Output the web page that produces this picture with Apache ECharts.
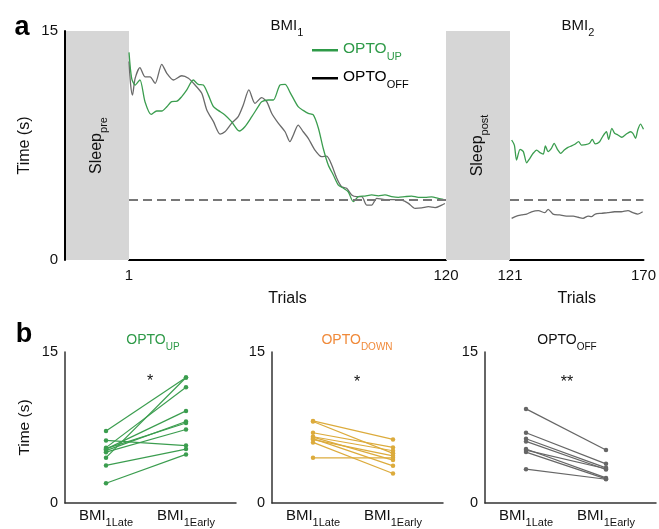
<!DOCTYPE html>
<html><head><meta charset="utf-8">
<script src="https://cdn.jsdelivr.net/npm/echarts@6/dist/echarts.min.js"></script>
<style>html,body{margin:0;padding:0;background:#fff}#c{width:659px;height:529px}</style>
</head><body><div id="c"></div>
<script>
// ---------- Panel a data ----------
const upBmi1Trials = [1,2,3.3,5.1,7,9.3,11.4,13.3,15.2,17,19,20.8,22.7,25.1,27,28.9,30.8,32.7,34.5,37,39.5,42.4,44.5,47.1,49.5,50.8,53.3,55.2,57.7,59.6,61.4,64.5,66.4,68.3,70.2,72.1,73.9,75.8,77.7,79.6,81.5,83.3,85.2,87.1,89.6,92.1,94.6,97.1,99.6,102.1,104.6,107.1,109.6,112.1,114.6,117.1,119];
const upBmi1Values = [13.6,11.9,11.46,11.8,10.37,9.54,9.76,9.76,10.04,10.37,10.4,10.7,11.14,11.79,11.5,11.46,10.8,10.04,9.8,9.5,9.06,8.45,8.73,9.39,10.04,10.37,10.48,10.48,11.46,11.5,11.0,10.04,9.8,9.6,9.5,8.63,7.32,6.22,5.57,4.91,4.7,4.47,3.82,4.15,4.19,4.26,4.2,4.26,4.15,4.1,4.15,4.19,4.1,4.1,4.13,4.04,3.97];
const offBmi1Trials = [1,1.6,2.3,3.3,5.1,7,8.9,10.8,13.3,15.2,17.7,20.8,23.3,25.8,28.3,30.2,32.7,35.2,37,39.5,42,43.9,46,48.3,50.8,52.7,54.6,57.1,59.6,61.4,62.7,64.5,66.4,68.3,70.8,73.3,75.2,77.1,79,80.8,82.7,84.6,86.5,88.4,90.2,92.1,94,97.1,100.2,103.4,105.9,108.4,110.9,113.4,115.9,118.4,119.6];
const offBmi1Values = [13.0,11.5,10.8,11.9,12.6,12.0,12.0,11.57,12.82,12.23,11.79,12.07,11.9,11.46,10.92,9.83,9.06,8.25,8.4,8.95,9.39,10.15,11.14,10.26,10.63,10.37,9.6,8.95,8.4,7.75,8.19,8.84,8.4,7.97,7.2,6.77,6.8,6.22,5.35,4.8,4.7,4.26,4.15,4.15,3.6,3.6,4.04,3.95,3.95,3.92,3.71,3.38,3.41,3.49,3.43,3.6,3.7];
const upBmi2Trials = [121.6,122.6,123.4,124.7,125.9,127.1,128.3,129.5,130.8,132,133.2,134,135,136.2,137.2,138.4,139.6,140.9,142.3,143.6,144.8,146.2,147.2,148.8,150.2,151.2,152.3,153.9,155.1,156.4,157.2,158.4,159.4,160.6,162,163.7,165.2,166.1,167.1,167.9,168.9,170];
const upBmi2Values = [7.86,7.53,6.55,7.25,7.1,6.37,6.66,6.99,7.2,7.03,6.94,7.47,7.1,7.31,7.64,7.25,6.99,7.2,7.38,7.47,7.58,7.75,7.53,7.55,7.64,7.9,7.6,7.75,8.12,8.4,7.9,8.62,8.3,8.19,8.04,8.25,8.4,8.3,7.97,8.52,8.9,8.56];
const offBmi2Trials = [121.6,123.4,125.3,127.1,128.9,131.4,133.8,135,136.8,139.3,141.7,144.2,146,147.8,149.7,150.9,152.3,154.5,156.9,159.4,161.8,164.3,166.1,167.9,169.7];
const offBmi2Values = [2.73,2.88,2.95,3.01,3.16,3.23,3.1,3.32,3.01,2.95,2.88,2.88,2.8,2.73,2.88,2.84,3.01,3.06,3.1,3.16,3.16,3.23,3.1,3.01,3.16];
const criterion = 3.93;
const bmi1Ticks = [1, 120];
const bmi2Ticks = [121, 170];
const yTicks = [0, 15];

// ---------- Panel b data ----------
const upLate   = [7.15, 6.22, 5.5, 5.35, 5.2, 5.05, 4.5, 3.73, 1.96, 5.4];
const upEarly  = [12.47, 5.7, 11.5, 9.15, 8.1, 7.3, 12.47, 5.36, 4.83, 7.95];
const downLate = [8.15, 8.1, 6.98, 6.58, 6.55, 6.4, 6.3, 6.02, 4.49];
const downEarly= [6.32, 4.93, 5.52, 5.19, 4.26, 3.69, 4.69, 2.93, 4.49];
const offLate  = [9.35, 6.98, 6.38, 6.12, 5.36, 5.26, 5.06, 3.36];
const offEarly = [5.26, 3.89, 3.49, 3.33, 2.49, 3.4, 2.4, 2.36];
const phaseLabels = ['BMI1Late', 'BMI1Early'];

const FONT = '"Liberation Sans", Arial, Helvetica, sans-serif';
const GREEN = '#2e9a48', GREEN_LINE = '#3b9d4f', GRAY_LINE = '#6a6a6a', SLEEP = '#d6d6d6';
const ORANGE = '#f08a3a', GOLD = '#dcab3c', OFFC = '#666666';

const zip = (a, b) => a.map((v, i) => [v, b[i]]);

const grids = [
  {left: 65, top: 31, width: 64, height: 229},
  {left: 129, top: 31, width: 317, height: 229},
  {left: 446, top: 31, width: 64, height: 229},
  {left: 510, top: 31, width: 134, height: 229},
  {left: 65, top: 352, width: 171, height: 151},
  {left: 272, top: 352, width: 171, height: 151},
  {left: 485, top: 352, width: 171, height: 151}
];

const subRich = (size, sub, color) => ({
  m: {fontSize: size, fontFamily: FONT, color: color, lineHeight: size + 3, verticalAlign: 'top'},
  s: {fontSize: sub, fontFamily: FONT, color: color, lineHeight: sub, padding: [Math.round(size * 0.62), 0, 0, 0], verticalAlign: 'top'}
});

const aXAxis = (gi, mn, mx, ticks) => ({
  gridIndex: gi, type: 'value', min: mn, max: mx,
  axisLine: {show: true, onZero: false, lineStyle: {color: '#000', width: 2}},
  axisTick: {show: false}, splitLine: {show: false},
  axisLabel: {customValues: ticks, fontSize: 15, fontFamily: FONT, color: '#111', margin: 8},
  name: 'Trials', nameLocation: 'middle', nameGap: 31,
  nameTextStyle: {fontSize: 16, fontFamily: FONT, color: '#111'}
});
const hiddenX = gi => ({gridIndex: gi, type: 'value', min: 0, max: 1, show: false});
const bXAxis = gi => ({
  gridIndex: gi, type: 'value', min: -0.5125, max: 1.625,
  axisLine: {show: true, onZero: false, lineStyle: {color: '#333', width: 1.5}},
  axisTick: {show: false}, splitLine: {show: false},
  axisLabel: {customValues: [0, 1], margin: 5,
    formatter: v => v === 0 ? '{m|BMI}{s|' + phaseLabels[0].slice(3) + '}' : '{m|BMI}{s|' + phaseLabels[1].slice(3) + '}',
    rich: subRich(15, 11, '#111')}
});
const bYAxis = (gi, named) => ({
  gridIndex: gi, type: 'value', min: 0, max: 15, interval: 15, z: 5,
  axisLine: {show: true, onZero: false, lineStyle: {color: '#333', width: 1.5}},
  axisTick: {show: false}, splitLine: {show: false},
  axisLabel: {customValues: yTicks, fontSize: 14.5, fontFamily: FONT, color: '#111', margin: 7},
  name: named ? 'Time (s)' : '', nameLocation: 'middle', nameGap: 32,
  nameTextStyle: {fontSize: 15.5, fontFamily: FONT, color: '#111'}
});

const xAxis = [hiddenX(0), aXAxis(1, 1, 120, bmi1Ticks), hiddenX(2), aXAxis(3, 121, 170, bmi2Ticks), bXAxis(4), bXAxis(5), bXAxis(6)];
const yAxis = [
  {gridIndex: 0, type: 'value', min: 0, max: 15, interval: 15, z: 5,
   axisLine: {show: true, onZero: false, lineStyle: {color: '#000', width: 2}},
   axisTick: {show: false}, splitLine: {show: false},
   axisLabel: {customValues: yTicks, fontSize: 15, fontFamily: FONT, color: '#111', margin: 7},
   name: 'Time (s)', nameLocation: 'middle', nameGap: 32,
   nameTextStyle: {fontSize: 16, fontFamily: FONT, color: '#111'}},
  {gridIndex: 1, type: 'value', min: 0, max: 15, show: false},
  {gridIndex: 2, type: 'value', min: 0, max: 15, show: false},
  {gridIndex: 3, type: 'value', min: 0, max: 15, show: false},
  bYAxis(4, true), bYAxis(5, false), bYAxis(6, false)
];

const critLine = {
  silent: true, symbol: ['none', 'none'], label: {show: false},
  lineStyle: {color: '#777', width: 2, type: [9, 5]},
  data: [{yAxis: criterion}]
};
const sleepArea = {
  silent: true, itemStyle: {color: SLEEP},
  data: [[{xAxis: 0, yAxis: 0}, {xAxis: 1, yAxis: 15}]]
};
const trace = (name, gi, data, color, extra) => Object.assign({
  type: 'line', name: name, xAxisIndex: gi, yAxisIndex: gi, data: data,
  symbol: 'none', showSymbol: false, smooth: 0.25, silent: true,
  lineStyle: {color: color, width: 1.3}, itemStyle: {color: color}
}, extra || {});

const series = [
  {type: 'line', xAxisIndex: 0, yAxisIndex: 0, data: [], markArea: sleepArea},
  {type: 'line', xAxisIndex: 2, yAxisIndex: 2, data: [], markArea: sleepArea},
  trace('OPTO_OFF', 1, zip(offBmi1Trials, offBmi1Values), GRAY_LINE),
  trace('OPTO_UP', 1, zip(upBmi1Trials, upBmi1Values), GREEN_LINE, {markLine: critLine}),
  trace('OPTO_OFF', 3, zip(offBmi2Trials, offBmi2Values), GRAY_LINE),
  trace('OPTO_UP', 3, zip(upBmi2Trials, upBmi2Values), GREEN_LINE, {markLine: critLine})
];
const pairs = (gi, late, early, color) => late.forEach((v, i) => series.push({
  type: 'line', xAxisIndex: gi, yAxisIndex: gi, silent: true,
  data: [[0, v], [1, early[i]]], symbol: 'circle', symbolSize: 4.5, showSymbol: true,
  lineStyle: {color: color, width: 1.2}, itemStyle: {color: color}
}));
pairs(4, upLate, upEarly, GREEN_LINE);
pairs(5, downLate, downEarly, GOLD);
pairs(6, offLate, offEarly, OFFC);

const gtext = (x, y, text, rich, extra) => Object.assign({
  type: 'text', x: x, y: y, silent: true, z: 100,
  style: {text: text, align: 'center', verticalAlign: 'middle', rich: rich}
}, extra || {});
const zr = (size, sub, fill) => ({
  m: {fontSize: size, fontFamily: FONT, fill: fill, lineHeight: size + 3, verticalAlign: 'top'},
  s: {fontSize: sub, fontFamily: FONT, fill: fill, lineHeight: sub, padding: [Math.round(size * 0.62), 0, 0, 0], verticalAlign: 'top'}
});

const graphic = [
  {type: 'text', x: 22, y: 28, silent: true, style: {text: 'a', font: 'bold 27px ' + FONT, fill: '#000', align: 'center', verticalAlign: 'middle'}},
  {type: 'text', x: 24, y: 335, silent: true, style: {text: 'b', font: 'bold 27px ' + FONT, fill: '#000', align: 'center', verticalAlign: 'middle'}},
  gtext(287, 27, '{m|BMI}{s|1}', zr(15, 11, '#111')),
  gtext(578, 27, '{m|BMI}{s|2}', zr(15, 11, '#111')),
  gtext(98, 145.5, '{m|Sleep}{s|pre}', zr(16, 11, '#111'), {rotation: Math.PI / 2}),
  gtext(479, 145.5, '{m|Sleep}{s|post}', zr(16, 11, '#111'), {rotation: Math.PI / 2}),
  gtext(153, 342, '{m|OPTO}{s|UP}', zr(14, 10, GREEN)),
  gtext(357, 342, '{m|OPTO}{s|DOWN}', zr(14, 10, ORANGE)),
  gtext(567, 342, '{m|OPTO}{s|OFF}', zr(14, 10, '#111')),
  {type: 'text', x: 150, y: 382, silent: true, style: {text: '*', font: '16px ' + FONT, fill: '#111', align: 'center', verticalAlign: 'middle'}},
  {type: 'text', x: 357, y: 383, silent: true, style: {text: '*', font: '16px ' + FONT, fill: '#111', align: 'center', verticalAlign: 'middle'}},
  {type: 'text', x: 567, y: 383, silent: true, style: {text: '**', font: '16px ' + FONT, fill: '#111', align: 'center', verticalAlign: 'middle'}}
];

const legendRich = Object.assign({},
  (() => { const r = subRich(15.5, 11, GREEN); return {mg: r.m, sg: r.s}; })(),
  (() => { const r = subRich(15.5, 11, '#000'); return {mk: r.m, sk: r.s}; })()
);

const option = {
  animation: false,
  backgroundColor: '#fff',
  textStyle: {fontFamily: FONT},
  grid: grids,
  xAxis: xAxis,
  yAxis: yAxis,
  legend: {
    left: 307, top: 36, orient: 'vertical', icon: 'rect', itemWidth: 26, itemHeight: 2.5, itemGap: 7,
    selectedMode: false,
    data: [
      {name: 'OPTO_UP', itemStyle: {color: GREEN}},
      {name: 'OPTO_OFF', itemStyle: {color: '#000'}}
    ],
    formatter: n => n === 'OPTO_UP' ? '{mg|OPTO}{sg|UP}' : '{mk|OPTO}{sk|OFF}',
    textStyle: {rich: legendRich}
  },
  graphic: {elements: graphic},
  series: series
};
const chart = echarts.init(document.getElementById('c'), null, {renderer: 'canvas'});
chart.setOption(option);
</script></body></html>
